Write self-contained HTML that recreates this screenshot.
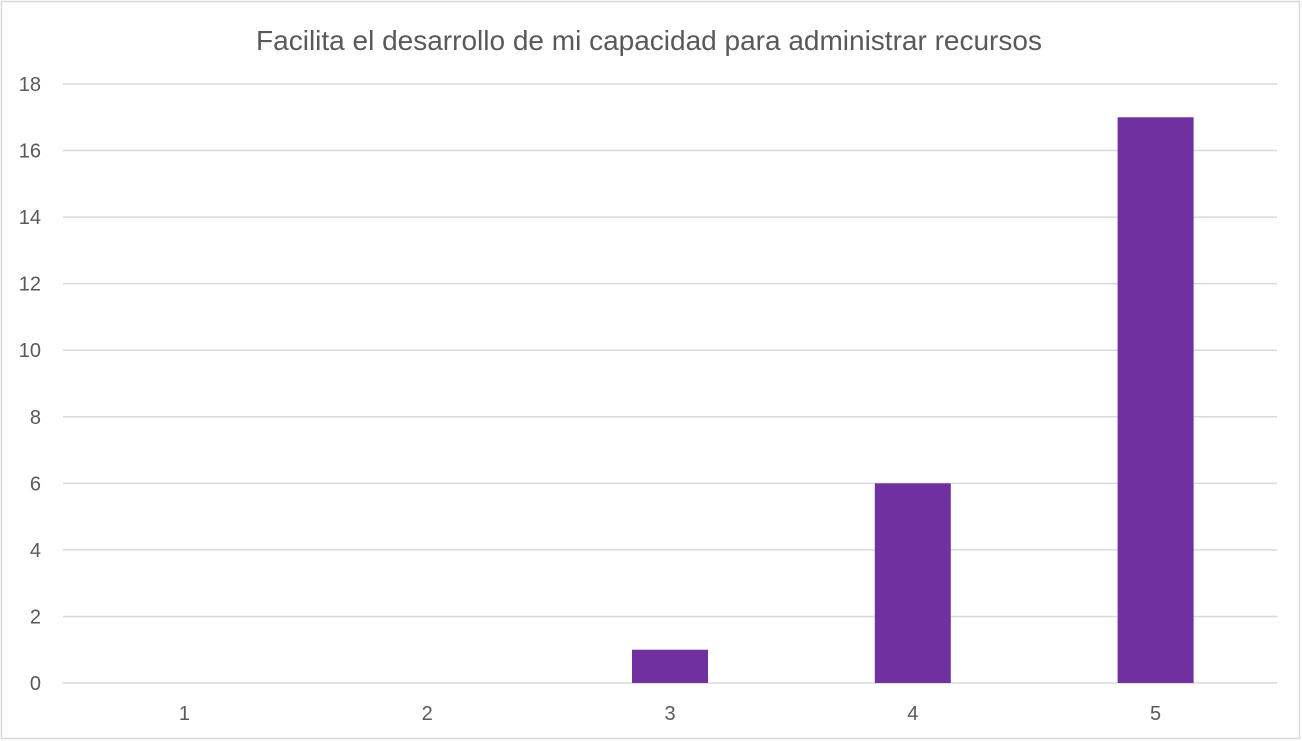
<!DOCTYPE html>
<html><head><meta charset="utf-8"><style>
html,body{margin:0;padding:0;background:#fff;}
svg{display:block;font-family:"Liberation Sans",Arial,sans-serif;}
</style></head><body>
<svg id="chart" width="1302" height="741" viewBox="0 0 1302 741">
<rect x="1.5" y="1.5" width="1298" height="737" fill="#fff" stroke="#d9d9d9" stroke-width="1.5"/>
<text x="649" y="50" text-anchor="middle" font-size="28" fill="#595959">Facilita el desarrollo de mi capacidad para administrar recursos</text>
<g id="grid"></g><g id="bars"></g><g id="ylabels"></g><g id="xlabels"></g>
</svg>
<script>
const categories = ["1","2","3","4","5"];
const values = [0,0,1,6,17];
const yTicks = [0,2,4,6,8,10,12,14,16,18];
const NS="http://www.w3.org/2000/svg";
const x0=63,x1=1277,yTop=84,yBot=683,yMax=18;
const band=(x1-x0)/categories.length;
const barW=76;
function yScale(v){return yBot-(v/yMax)*(yBot-yTop);}
function xCenter(i){return x0+band*(i+0.5);}
const grid=document.getElementById('grid'),bars=document.getElementById('bars'),yl=document.getElementById('ylabels'),xl=document.getElementById('xlabels');
yTicks.forEach(t=>{
  const l=document.createElementNS(NS,'line');
  l.setAttribute('x1',x0);l.setAttribute('x2',x1);
  l.setAttribute('y1',yScale(t));l.setAttribute('y2',yScale(t));
  l.setAttribute('stroke','#d9d9d9');l.setAttribute('stroke-width','1.5');
  
  
  grid.appendChild(l);
  const tx=document.createElementNS(NS,'text');
  tx.setAttribute('x',41);tx.setAttribute('y',yScale(t)+7);
  tx.setAttribute('text-anchor','end');tx.setAttribute('font-size','20');tx.setAttribute('fill','#595959');
  tx.textContent=t;
  
  
  yl.appendChild(tx);
});
categories.forEach((c,i)=>{
  const v=values[i];
  if(v>0){
    const r=document.createElementNS(NS,'rect');
    r.setAttribute('x',xCenter(i)-barW/2);r.setAttribute('width',barW);
    r.setAttribute('y',yScale(v));r.setAttribute('height',yBot-yScale(v));
    r.setAttribute('fill','#7030a0');
    
    
    bars.appendChild(r);
  }
  const tx=document.createElementNS(NS,'text');
  tx.setAttribute('x',xCenter(i));tx.setAttribute('y',720);
  tx.setAttribute('text-anchor','middle');tx.setAttribute('font-size','20');tx.setAttribute('fill','#595959');
  tx.textContent=c;
  
  
  xl.appendChild(tx);
});
</script>
</body></html>
